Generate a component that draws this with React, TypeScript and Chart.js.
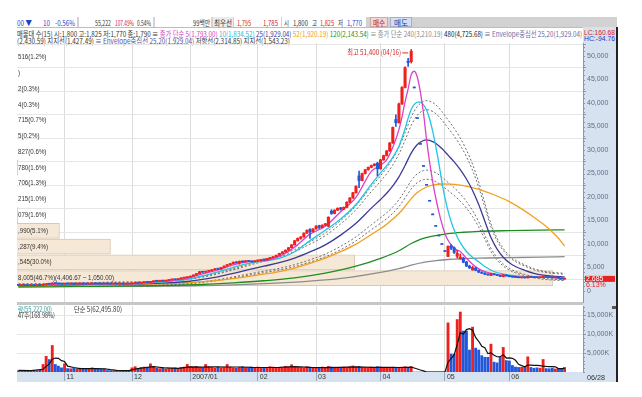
import React, { useEffect, useLayoutEffect, useRef } from 'react';
import { Chart, registerables } from 'chart.js';
Chart.register(...registerables);

const FONT = "'Noto Sans CJK KR','Noto Sans',sans-serif";
const NUMFONT = "'Liberation Sans','DejaVu Sans',sans-serif";
const RED = '#f0201c';
const BLUE = '#2258d8';

// ---- daily candles: 2006/10/11 .. 2007/06/28 (index 0..178) ----
const opens = [
  1200,1180,1190,1175,1160,1185,1170,1200,1190,1330,1520,1450,1700,1580,1530,
  1480,1560,1520,1540,1510,1530,1550,1520,1500,1530,1560,1540,1520,1510,1530,1520,1500,1510,1490,1500,1480,1500,
  1520,1620,1700,1680,1780,1880,1850,1950,2150,2080,2150,2120,2250,2380,2450,2420,2600,2750,2850,
  2950,3150,3400,3700,4100,4000,4200,4300,4500,4700,4650,5000,5300,5600,5800,6100,6000,6300,6200,6400,6300,6200,
  6400,6500,6700,6600,6900,7100,7300,7600,8000,8300,8700,9200,9800,10700,11200,11500,12300,13100,12600,
  13200,13900,13500,14000,13800,17000,16500,17200,17700,17400,17800,18900,19800,20900,24500,23500,25000,25800,26300,26700,27200,
  26000,27900,28800,29800,31500,36500,35800,39800,43300,48900,48800,
  43400,36900,31400,26700,22700,19300,16400,13950,11900,10100,
  8600,7350,9600,9200,7400,6800,7000,6200,5300,4500,4900,4400,4000,3800,3600,3300,3650,3450,3300,3050,3380,
  3200,3050,2950,2880,2800,2860,2800,3040,2950,2880,2840,2880,3080,2950,2850,2770,2800,2700,2530,
];
const highs = [
  1215,1200,1195,1185,1195,1190,1210,1215,1360,1530,1600,1750,1720,1610,1550,
  1600,1575,1560,1550,1545,1570,1560,1530,1545,1580,1570,1550,1530,1545,1540,1525,1520,1515,1510,1505,1510,1530,
  1640,1720,1730,1800,1900,1900,1970,2200,2180,2170,2170,2270,2400,2480,2470,2620,2780,2880,2980,
  3200,3450,3750,4200,4150,4250,4400,4550,4800,4750,5050,5350,5650,5900,6200,6250,6400,6350,6500,6450,6350,6450,
  6600,6750,6800,6950,7150,7350,7650,8050,8400,8750,9300,9900,10800,11300,11600,12400,13000,13300,13300,
  13900,14000,14100,14400,15800,17300,17300,17700,17800,17900,19000,19900,21000,22400,25500,25100,25900,26400,26800,27100,27400,
  28000,28900,29900,31600,34900,37500,40000,43500,47700,49500,51400,
  43400,36900,31400,26700,22700,19300,16400,13950,11900,10100,
  8600,9600,9900,9400,8700,7900,7200,6300,5500,5300,5000,4500,4100,3900,3650,3800,3700,3500,3350,3500,3420,
  3250,3100,3000,2920,2900,2880,3150,3080,2980,2900,2930,3200,3100,2980,2880,2830,2820,2720,2700,
];
const lows = [
  1170,1165,1165,1150,1155,1160,1165,1180,1185,1320,1430,1440,1560,1510,1470,
  1470,1510,1510,1500,1500,1520,1510,1490,1495,1525,1530,1510,1500,1505,1510,1490,1495,1480,1485,1470,1475,1495,
  1515,1610,1660,1670,1770,1830,1840,1940,2050,2070,2100,2110,2240,2370,2400,2410,2590,2740,2840,
  2940,3140,3390,3690,3900,3980,4150,4280,4480,4550,4640,4990,5280,5580,5780,5900,5700,6100,6180,6250,6100,6180,
  6380,6480,6550,6580,6880,7080,7280,7580,7980,8280,8680,9180,9780,10600,11000,11450,12250,11200,12550,
  13150,13300,13450,13900,13700,16300,16400,17100,17200,17300,17700,18800,19700,20800,22000,23400,24900,25700,26200,26600,24500,
  25900,27800,28700,29700,31400,35000,35700,39700,43200,47800,48500,
  43400,36900,31400,26700,22700,19300,16400,13950,11900,10100,
  8600,7300,8800,8000,7000,6800,6000,5200,4800,4400,4300,3900,3700,3500,3350,3250,3400,3250,3050,3000,3150,
  3000,2900,2850,2800,2780,2780,2790,2920,2860,2830,2830,2870,2930,2830,2760,2760,2680,2510,2520,
];
const closes = [
  1180,1190,1175,1160,1185,1170,1200,1190,1330,1520,1450,1700,1580,1530,1480,
  1560,1520,1540,1510,1530,1550,1520,1500,1530,1560,1540,1520,1510,1530,1520,1500,1510,1490,1500,1480,1500,1520,
  1620,1700,1680,1780,1880,1850,1950,2150,2080,2150,2120,2250,2380,2450,2420,2600,2750,2850,2950,
  3150,3400,3700,4100,4000,4200,4300,4500,4700,4650,5000,5300,5600,5800,6100,6000,6300,6200,6400,6300,6200,6400,
  6500,6700,6600,6900,7100,7300,7600,8000,8300,8700,9200,9800,10700,11200,11500,12300,12900,12600,13200,
  13800,13500,14000,14300,15700,16500,17200,17600,17400,17800,18900,19800,20900,22300,23500,25000,25800,26300,26700,27000,26000,
  27900,28800,29800,31500,34800,35800,39800,43300,47500,48600,51000,
  43400,36900,31400,26700,22700,19300,16400,13950,11900,10100,
  8600,9500,9100,8200,8000,7200,6100,5300,4900,5000,4400,4000,3800,3550,3400,3700,3450,3300,3100,3400,3200,
  3050,2950,2880,2820,2870,2800,3050,2950,2880,2850,2900,3100,2950,2850,2780,2800,2700,2530,2685,
];
// volume in thousands of shares
const volumes = [
  350,300,250,300,350,420,380,500,1980,4140,3280,6980,1980,1550,1100,
  2150,900,850,950,800,1000,850,800,900,1100,850,800,750,800,400,350,300,350,300,400,350,450,
  1100,1400,1000,1200,1300,1000,2150,1500,1000,900,1100,800,900,1000,1100,900,1200,1300,2000,
  1400,1300,1500,1200,1100,1980,1400,1200,1000,1300,1100,1200,1980,1300,1100,1000,1200,1400,1100,1000,1300,1200,
  1300,1100,1000,1200,1400,1300,1000,1200,1100,1500,1300,1900,1400,1300,1200,1000,1400,1300,1100,
  1200,1000,1300,1100,1500,1300,1200,1000,1100,1300,1200,1400,1600,1300,1500,1200,1100,1000,1300,1200,1400,
  1300,1100,1200,1000,1300,1100,1200,1300,1400,1200,1400,
  0,0,0,0,0,0,0,0,0,0,
  0,12930,4740,4700,13800,15780,10780,10780,5780,11810,6290,5780,4310,3880,3880,7330,2590,2400,3900,6470,3020,
  2900,1720,1300,1200,1250,1300,4000,1200,1000,1100,1000,3300,900,850,1000,800,900,950,1200,
];

// ---- moving-average lines: [dayIndex, value] ----
const ma5 = [[0,1190],[5,1176],[10,1338],[15,1570],[20,1530],[25,1530],[30,1516],[35,1496],[40,1660],[45,1982],[50,2270],[55,2714],[60,3670],[65,4470],[70,5560],[75,6240],[80,6480],[85,7380],[90,9340],[95,12100],[100,13760],[105,16880],[110,19940],[115,25460],[118,26780],[120,27900],[122,30560],[124,34340],[125,37040],[126,40240],[127,43000],[128,46040],[129,46760],[130,45480],[131,42260],[132,37880],[133,32220],[134,27400],[135,23300],[136,19810],[137,16850],[138,14330],[139,12190],[140,10810],[141,9840],[142,9100],[143,8680],[144,8400],[145,7720],[146,6960],[148,5700],[150,4720],[152,4150],[155,3580],[158,3390],[161,3140],[165,2864],[168,2910],[171,2936],[174,2916],[178,2699]];
const ma10 = [[0,1200],[5,1190],[10,1257],[15,1454],[20,1550],[25,1530],[30,1523],[35,1506],[40,1578],[45,1821],[50,2126],[55,2492],[60,3192],[65,4070],[70,5015],[75,5900],[80,6360],[85,6930],[90,8360],[95,10720],[100,12930],[105,15320],[110,18410],[115,22700],[118,25140],[120,26680],[122,28460],[124,30810],[126,34520],[127,36780],[128,38600],[129,39700],[130,40200],[131,40200],[132,39600],[133,38500],[134,36600],[135,34000],[136,30800],[137,27200],[138,23275],[139,19795],[140,17055],[141,14825],[142,12975],[143,11505],[144,10295],[146,8400],[148,7190],[150,6220],[152,5225],[155,4150],[158,3610],[161,3310],[165,3037],[170,2895],[174,2911],[178,2815]];
const ma25 = [[0,1200],[10,1250],[20,1380],[25,1429],[30,1497],[35,1528],[40,1546],[45,1637],[50,1785],[55,2024],[60,2459],[65,3021],[70,3737],[75,4531],[80,5284],[85,6026],[90,7000],[95,8308],[100,9812],[105,11892],[110,14404],[115,17628],[118,19464],[120,20788],[122,22360],[124,24284],[126,26716],[128,29352],[130,31164],[132,32020],[133,32136],[134,32072],[136,31454],[138,30302],[140,28906],[142,27478],[144,25818],[146,23822],[148,21394],[150,18406],[152,14856],[154,11364],[156,8902],[158,7186],[160,6008],[162,5207],[165,4419],[168,3762],[171,3372],[174,3143],[178,2982]];
const ma52 = [[0,1150],[10,1171],[20,1248],[30,1320],[40,1402],[51,1614],[55,1738],[60,1974],[65,2254],[70,2643],[75,3096],[80,3572],[85,4137],[90,4884],[95,5872],[100,6988],[105,8369],[110,9978],[115,12020],[120,14217],[125,17194],[128,19660],[130,20956],[133,22121],[135,22531],[138,22763],[141,22753],[145,22441],[150,21626],[155,20476],[160,19025],[165,17041],[168,15673],[171,14253],[174,12570],[176,11222],[178,9576]];
const ma120 = [[0,900],[20,986],[40,1095],[60,1388],[70,1731],[80,2186],[90,2807],[100,3810],[110,5269],[118,6944],[124,8558],[128,10104],[131,10996],[135,11654],[140,12200],[145,12500],[150,12700],[160,12850],[170,12950],[178,13000]];
const ma240 = [[0,880],[20,940],[48,1040],[70,1320],[92,1950],[100,2355],[108,2912],[118,3950],[124,4750],[128,5500],[132,6100],[136,6450],[140,6700],[150,7000],[160,7100],[170,7200],[178,7300]];
const volMa5 = [[0,420],[4,380],[8,726],[9,1484],[10,2056],[11,3376],[12,3672],[13,3586],[14,2978],[15,2752],[16,1536],[18,1190],[20,900],[25,900],[28,860],[30,620],[32,440],[35,340],[36,370],[38,740],[40,1030],[44,1430],[48,1060],[52,940],[56,1360],[60,1300],[64,1336],[68,1316],[72,1316],[76,1200],[80,1180],[85,1220],[90,1440],[95,1240],[100,1140],[105,1220],[110,1360],[115,1220],[120,1240],[125,1180],[128,1300],[129,1060],[130,800],[131,520],[132,280],[133,0],[139,0],[140,2586],[141,3534],[142,4474],[143,7234],[144,10390],[145,9960],[146,11168],[147,11384],[148,10986],[149,9088],[150,8088],[151,6794],[152,6414],[153,4828],[154,5036],[155,4398],[156,4016],[157,4020],[158,4538],[159,3676],[160,3738],[161,3602],[162,3082],[163,2028],[164,1674],[165,1354],[166,1810],[167,1790],[168,1750],[169,1720],[170,1660],[171,1520],[172,1460],[173,1430],[174,1410],[175,1370],[176,890],[177,900],[178,970]];
// envelope bands around the 25-day centre line (percent)
const envelopeA = [26, -26];
const envelopeB = [20, -20];

// ---- price-volume profile (매물대), 15 bands, bottom to top ----
const profileRange = [1050, 51400];
const profilePct = [46.7, 30.0, 9.4, 5.1, 1.6, 1.0, 1.3, 1.6, 0.6, 0.2, 0.7, 0.3, 0.3, 0.1, 1.2];
const profileLabels = ['8,005(46.7%)(4,406.67 ~ 1,050.00)', ',545(30.0%)', ',287(9.4%)', ',990(5.1%)', '079(1.6%)', '215(1.0%)', '706(1.3%)', '780(1.6%)', '827(0.6%)', '5(0.2%)', '715(0.7%)', '4(0.3%)', '2(0.3%)', ')', '516(1.2%)'];

// ---- axes ----
const monthTicks = [15, 37, 56, 78, 97, 118, 139, 160];
const monthLabels = ['11', '12', '2007/01', '02', '03', '04', '05', '06'];
const priceTicks = [0, 5000, 10000, 15000, 20000, 25000, 30000, 35000, 40000, 45000, 50000];
const volumeTicks = [5000, 10000, 15000];
const peakLabel = '최고 51,400 (04/16)';

const fmt = (v: number) => Number(v).toLocaleString('en-US');
const isUp = (i: number) => closes[i] > opens[i] || (closes[i] === opens[i] && (i === 0 || closes[i] >= closes[i - 1]));
const idx = closes.map((_, i) => i);
const candleColors = idx.map((i) => (isUp(i) ? RED : BLUE));
const bandStep = (profileRange[1] - profileRange[0]) / profilePct.length;

function fillFit(ctx: CanvasRenderingContext2D, text: string, x: number, y: number, sx: number) {
  ctx.save();
  ctx.translate(x, y);
  ctx.scale(sx, 1);
  ctx.fillText(text, 0, 0);
  ctx.restore();
}

const priceOverlay = {
  id: 'priceOverlay',
  afterDatasetsDraw(chart: any) {
    const { ctx, chartArea: ca } = chart;
    const ys = chart.scales.y;
    const xs = chart.scales.x;
    ctx.save();
    ctx.beginPath();
    ctx.rect(ca.left, ca.top, ca.right - ca.left, ca.bottom - ca.top);
    ctx.clip();
    ctx.font = `7px ${NUMFONT}`;
    ctx.fillStyle = '#333';
    ctx.textBaseline = 'middle';
    ctx.textAlign = 'left';
    profileLabels.forEach((t, k) => {
      const mid = profileRange[0] + (k + 0.5) * bandStep;
      fillFit(ctx, t, ca.left + 1, ys.getPixelForValue(mid), 0.88);
    });
    ctx.restore();

    const maxH = Math.max(...highs);
    const pk = highs.indexOf(maxH);
    const px = xs.getPixelForValue(pk);
    const py = ys.getPixelForValue(maxH);
    ctx.save();
    ctx.font = `8px ${FONT}`;
    ctx.fillStyle = '#d42a2a';
    ctx.strokeStyle = '#d42a2a';
    ctx.textBaseline = 'middle';
    ctx.textAlign = 'left';
    const w = ctx.measureText(peakLabel).width;
    const sx = 54 / w;
    fillFit(ctx, peakLabel, px - 10 - 54, py + 3, sx);
    ctx.lineWidth = 1;
    ctx.beginPath();
    ctx.moveTo(px - 9, py + 3.5);
    ctx.lineTo(px - 3, py + 3.5);
    ctx.stroke();
    ctx.restore();

    ctx.save();
    ctx.strokeStyle = '#8898b0';
    ctx.lineWidth = 1;
    for (let v = 0; v <= ys.max; v += 1000) {
      const yy = Math.round(ys.getPixelForValue(v)) + 0.5;
      ctx.beginPath();
      ctx.moveTo(ca.right, yy);
      ctx.lineTo(ca.right + 2, yy);
      ctx.stroke();
    }
    ctx.restore();

    const last = closes.length - 1;
    const ly = ys.getPixelForValue(closes[last]);
    ctx.save();
    ctx.fillStyle = '#e8231f';
    ctx.fillRect(ca.right + 2, ly - 2.5, 30, 6);
    ctx.font = `7px ${NUMFONT}`;
    ctx.textBaseline = 'middle';
    ctx.textAlign = 'left';
    ctx.fillStyle = '#fff';
    ctx.fillText(fmt(closes[last]), ca.right + 3, ly + 0.5);
    const chg = (((closes[last] - closes[last - 1]) / closes[last - 1]) * 100).toFixed(2) + '%';
    ctx.fillStyle = '#e8231f';
    ctx.fillText(chg, ca.right + 3, ly + 6.5);
    ctx.restore();
  },
};

const volOverlay = {
  id: 'volOverlay',
  afterDatasetsDraw(chart: any) {
    const { ctx, chartArea: ca } = chart;
    const ys = chart.scales.y;
    ctx.save();
    ctx.strokeStyle = '#8898b0';
    ctx.lineWidth = 1;
    for (let v = 0; v <= ys.max; v += 1000) {
      const yy = Math.round(ys.getPixelForValue(v)) + 0.5;
      ctx.beginPath();
      ctx.moveTo(ca.right, yy);
      ctx.lineTo(ca.right + 2, yy);
      ctx.stroke();
    }
    ctx.restore();
  },
};

const pts = (arr: number[][]) => arr.map(([x, y]) => ({ x, y }));
const lineDs = (label: string, arr: number[][], color: string, order: number, width = 1.3, dash: number[] = []) => ({
  type: 'line' as const,
  label,
  data: pts(arr),
  borderColor: color,
  borderWidth: width,
  borderDash: dash,
  pointRadius: 0,
  cubicInterpolationMode: 'monotone' as const,
  order,
  xAxisID: 'x',
  yAxisID: 'y',
});
const envDs = (pct: number, order: number) =>
  lineDs('env' + pct, ma25.map(([i, v]) => [i, v * (1 + pct / 100)]), '#6e6e6e', order, 1, [2, 2]);

const dayAxis = (withLabels: boolean): any => ({
  type: 'linear',
  position: 'bottom',
  min: -0.5,
  max: 184,
  offset: false,
  grid: withLabels
    ? { color: '#dcdcdc', offset: false, drawTicks: true, tickLength: 9, tickColor: '#9aa7b8' }
    : { color: '#dcdcdc', offset: false, drawTicks: false },
  border: { display: false },
  ticks: withLabels
    ? {
        autoSkip: false,
        maxRotation: 0,
        align: 'start',
        labelOffset: 2,
        padding: -8,
        font: { family: NUMFONT, size: 7 },
        color: '#333',
        callback: (_v: any, i: number) => monthLabels[i],
      }
    : { display: false },
  afterBuildTicks: (s: any) => { s.ticks = monthTicks.map((v) => ({ value: v })); },
  afterFit: (s: any) => { s.height = withLabels ? 10 : 0; s.paddingLeft = 0; s.paddingRight = 0; },
});

function priceConfig(): any {
  return {
    type: 'bar',
    data: {
      datasets: [
        {
          type: 'bar',
          label: 'profile',
          indexAxis: 'y',
          xAxisID: 'xp',
          yAxisID: 'y',
          data: profilePct.map((p, k) => ({ x: p, y: profileRange[0] + (k + 0.5) * bandStep })),
          backgroundColor: '#f6e8d6',
          borderColor: '#d9c7b0',
          borderWidth: 1,
          barThickness: 15,
          grouped: false,
          order: 100,
        },
        envDs(envelopeA[0], 50),
        envDs(envelopeB[0], 51),
        envDs(envelopeB[1], 52),
        envDs(envelopeA[1], 53),
        lineDs('ma240', ma240, '#8c8c8c', 45),
        lineDs('ma120', ma120, '#1e8c1e', 44),
        lineDs('ma52', ma52, '#f2a01e', 43),
        lineDs('ma25', ma25, '#3d3a96', 42),
        lineDs('ma10', ma10, '#22c4e6', 41),
        lineDs('ma5', ma5, '#de3fc6', 40),
        {
          type: 'bar',
          label: 'wick',
          xAxisID: 'x',
          yAxisID: 'y',
          data: idx.map((i) => ({ x: i, y: [lows[i], highs[i]] })),
          backgroundColor: candleColors,
          barThickness: 1,
          grouped: false,
          order: 2,
        },
        {
          type: 'bar',
          label: 'body',
          xAxisID: 'x',
          yAxisID: 'y',
          data: idx.map((i) => ({ x: i, y: [Math.min(opens[i], closes[i]), Math.max(opens[i], closes[i])] })),
          backgroundColor: candleColors,
          barThickness: 2.4,
          minBarLength: 1,
          grouped: false,
          order: 1,
        },
      ],
    },
    options: {
      animation: false,
      responsive: false,
      events: [],
      layout: { padding: { left: 17, right: 25, top: 1, bottom: 1 } },
      plugins: { legend: { display: false }, tooltip: { enabled: false } },
      scales: {
        x: dayAxis(false),
        xp: { axis: 'x', type: 'linear', position: 'bottom', display: false, offset: false, grid: { offset: false }, min: 1.52, max: 49.24 },
        y: {
          type: 'linear',
          position: 'right',
          min: -2340,
          max: 52766,
          offset: false,
          grid: { color: '#e6e6e6', tickLength: 3, tickColor: '#8898b0' },
          border: { display: true, color: '#8898b0' },
          ticks: { font: { family: NUMFONT, size: 7 }, color: '#5f6f86', padding: 1, callback: (v: any) => fmt(v) },
          afterBuildTicks: (s: any) => { s.ticks = priceTicks.map((v) => ({ value: v })); },
          afterFit: (s: any) => { s.width = 34; s.paddingTop = 0; s.paddingBottom = 0; },
        },
      },
    },
    plugins: [priceOverlay],
  };
}

function volConfig(): any {
  return {
    type: 'bar',
    data: {
      datasets: [
        {
          type: 'bar',
          label: 'volume',
          data: idx.map((i) => ({ x: i, y: volumes[i] })),
          backgroundColor: candleColors,
          barThickness: 2.2,
          grouped: false,
          order: 2,
        },
        {
          type: 'line',
          label: 'vma5',
          data: pts(volMa5),
          borderColor: '#111',
          borderWidth: 1.2,
          pointRadius: 0,
          tension: 0,
          order: 1,
        },
      ],
    },
    options: {
      animation: false,
      responsive: false,
      events: [],
      layout: { padding: { left: 17, right: 25, top: 1, bottom: 0 } },
      plugins: { legend: { display: false }, tooltip: { enabled: false } },
      scales: {
        x: dayAxis(true),
        y: {
          type: 'linear',
          position: 'right',
          min: 0,
          max: 17370,
          grid: { color: '#e6e6e6', tickLength: 3, tickColor: '#8898b0' },
          border: { display: true, color: '#8898b0' },
          ticks: { font: { family: NUMFONT, size: 7 }, color: '#5f6f86', padding: 1, callback: (v: any) => fmt(v) + 'K' },
          afterBuildTicks: (s: any) => { s.ticks = volumeTicks.map((v) => ({ value: v })); },
          afterFit: (s: any) => { s.width = 34; s.paddingTop = 0; s.paddingBottom = 0; },
        },
      },
    },
    plugins: [volOverlay],
  };
}

type Seg = [string, string];
function Row({ x, y, w, size = 7.5, segs, font = FONT }: { x: number; y: number; w: number; size?: number; segs: Seg[]; font?: string }) {
  const ref = useRef<HTMLDivElement>(null);
  useLayoutEffect(() => {
    const el = ref.current;
    if (!el) return;
    el.style.transform = 'none';
    const a = el.getBoundingClientRect().width;
    if (a > 0) el.style.transform = `scaleX(${w / a})`;
  }, [w]);
  return (
    <div
      ref={ref}
      style={{
        position: 'absolute',
        left: x,
        top: y,
        whiteSpace: 'nowrap',
        fontSize: size,
        lineHeight: `${size}px`,
        fontFamily: font,
        transformOrigin: '0 0',
      }}
    >
      {segs.map(([t, c], k) => (
        <span key={k} style={{ color: c }}>{t}</span>
      ))}
    </div>
  );
}

const box = (x: number, y: number, w: number, h: number, bg: string, extra: any = {}) => (
  <div style={{ position: 'absolute', left: x, top: y, width: w, height: h, background: bg, ...extra }} />
);

const AXISBG = '#d6e2f0';
const DARK = '#333';

export default function App() {
  const priceRef = useRef<HTMLCanvasElement>(null);
  const volRef = useRef<HTMLCanvasElement>(null);
  useEffect(() => {
    const c1 = new Chart(priceRef.current as HTMLCanvasElement, priceConfig());
    const c2 = new Chart(volRef.current as HTMLCanvasElement, volConfig());
    return () => {
      c1.destroy();
      c2.destroy();
    };
  }, []);

  return (
    <div style={{ position: 'absolute', left: 0, top: 0, width: 642, height: 397, background: '#fff', overflow: 'hidden' }}>
      {/* toolbar row */}
      {box(17, 17, 600, 10, '#d2d2d2')}
      {box(17, 17, 60, 10, '#fff')}
      {box(79, 17, 74, 10, '#fff')}
      {box(155, 17, 56, 10, '#fff')}
      {box(213, 17, 20, 10, '#ececec')}
      {box(234, 17, 47, 10, '#fff')}
      {box(282, 17, 84, 10, '#fff')}
      {box(370, 17, 18, 10, '#f6d6d2', { boxSizing: 'border-box', border: '1px solid #c9a9a4' })}
      {box(390, 17, 22, 10, '#d4def2', { boxSizing: 'border-box', border: '1px solid #a4b0c9' })}
      {box(17, 27, 600, 1, '#bdbdbd')}
      <Row x={17} y={18.5} w={15} segs={[['00 ▼', '#1f3fc8']]} />
      <Row x={43} y={18.5} w={7} segs={[['10', '#1f3fc8']]} />
      <Row x={55} y={18.5} w={20} segs={[['-0.56%', '#1f3fc8']]} />
      <Row x={95} y={18.5} w={16} segs={[['55,222', DARK]]} />
      <Row x={115} y={18.5} w={19} segs={[['107.49%', '#d02020']]} />
      <Row x={137} y={18.5} w={14} segs={[['0.54%', DARK]]} />
      <Row x={193} y={18.5} w={17} segs={[['99백만', DARK]]} />
      <Row x={214} y={18.5} w={18} segs={[['최우선', DARK]]} />
      <Row x={237} y={18.5} w={14} segs={[['1,795', '#d02020']]} />
      <Row x={263} y={18.5} w={15} segs={[['1,785', '#d02020']]} />
      <Row x={284} y={18.5} w={5} segs={[['시', DARK]]} />
      <Row x={293} y={18.5} w={15} segs={[['1,800', DARK]]} />
      <Row x={312} y={18.5} w={5} segs={[['고', DARK]]} />
      <Row x={320} y={18.5} w={14} segs={[['1,825', '#d02020']]} />
      <Row x={338} y={18.5} w={5} segs={[['저', DARK]]} />
      <Row x={347} y={18.5} w={15} segs={[['1,770', '#1f3fc8']]} />
      <Row x={373} y={18.5} w={12} segs={[['매수', '#b02020']]} />
      <Row x={394} y={18.5} w={14} segs={[['매도', '#2040a0']]} />

      {/* legend rows */}
      <Row
        x={17}
        y={29.5}
        w={565}
        segs={[
          ['매물대 수(15) 시:1,800 고:1,825 저:1,770 종:1,790 ≡ ', DARK],
          ['종가 단순 5(1,793.00) ', '#d63cc0'],
          ['10(1,834.52) ', '#20b8d8'],
          ['25(1,929.04) ', '#3d3a96'],
          ['52(1,920.19) ', '#e8a010'],
          ['120(2,143.54) ', '#1e8c1e'],
          ['≡ 종가 단순 240(3,210.19) ', '#8a8a8a'],
          ['480(4,725.68) ', '#222'],
          ['≡ Envelope중심선 25,20(1,929.04)', '#6a6a9a'],
        ]}
      />
      <Row
        x={17}
        y={36.5}
        w={273}
        segs={[
          ['(2,430.59) 지지선(1,427.49) ', DARK],
          ['≡ Envelope중심선 25,20(1,929.04) ', '#5050a0'],
          ['저항선(2,314.85) 지지선(1,543.23)', DARK],
        ]}
      />

      {/* axis panel backgrounds */}
      {box(583, 27, 34, 355, AXISBG)}
      {box(17, 372, 566, 9.5, AXISBG)}
      {box(17, 302, 566, 3, '#c6c6c6')}
      {box(612, 306, 4, 3, '#555')}

      <canvas ref={priceRef} width={642} height={261} style={{ position: 'absolute', left: 0, top: 42, width: 642, height: 261 }} />
      <canvas ref={volRef} width={642} height={77} style={{ position: 'absolute', left: 0, top: 305, width: 642, height: 77 }} />

      <Row x={584} y={28.5} w={31} size={7} segs={[['LC:160.68', '#e02020']]} font={NUMFONT} />
      <Row x={584} y={35} w={31} size={7} segs={[['HC:-94.76', '#2040c0']]} font={NUMFONT} />
      <Row x={18} y={305.5} w={34} size={7} segs={[['량(55,222.00)', '#2a9a9a']]} />
      <Row x={74} y={305.5} w={48} size={7} segs={[['단순 5(62,495.80)', DARK]]} />
      <Row x={18} y={311.5} w={37} size={7} segs={[['47주(168.98%)', DARK]]} />
      <Row x={587} y={373.5} w={18} size={7} segs={[['06/28', DARK]]} font={NUMFONT} />

      {box(616, 27, 2, 355, '#222')}
    </div>
  );
}
